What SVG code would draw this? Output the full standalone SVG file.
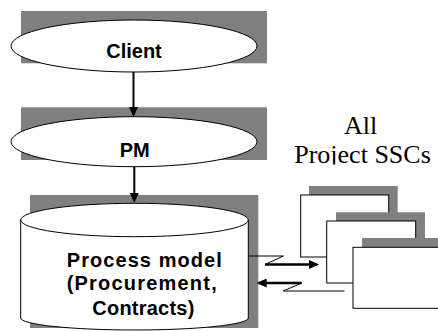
<svg xmlns="http://www.w3.org/2000/svg" width="438" height="331" viewBox="0 0 438 331">
<style>
.sh{fill:#808080;stroke:none}
.nd{fill:#fff;stroke:#000;stroke-width:1}
.lb{font-family:"Liberation Sans",Arial,sans-serif;font-weight:bold;font-size:20px;fill:#000;text-anchor:middle}
.cap{font-family:"Liberation Serif","Times New Roman",serif;font-size:26px;fill:#000;text-anchor:middle}
.thin{fill:none;stroke:#000;stroke-width:1}
.thick{fill:none;stroke:#000;stroke-width:2}
.thick3{fill:none;stroke:#000;stroke-width:2.5}
</style>
<defs>
<marker id="ah" viewBox="0 0 10 9" markerUnits="userSpaceOnUse" markerWidth="10" markerHeight="9" refX="8" refY="4.5" orient="auto">
<path d="M0,0 L10,4.5 L0,9 Z" fill="#000"/>
</marker>
<clipPath id="capclip"><rect x="280" y="100" width="158" height="64.5"/></clipPath>
</defs>

<g id="client">
<rect class="sh" x="21" y="11" width="246" height="52.3"/>
<ellipse class="nd" cx="134" cy="46" rx="123" ry="26"/>
<text class="lb" x="134" y="58.3">Client</text>
</g>

<g id="pm">
<rect class="sh" x="21" y="107.3" width="246" height="52.7"/>
<ellipse class="nd" cx="134" cy="141.7" rx="123" ry="25"/>
<text class="lb" x="134.7" y="156.6">PM</text>
</g>

<g id="process-model">
<rect class="sh" x="30" y="195" width="228.3" height="133"/>
<path class="nd" d="M20.7,220 A113.8,16.7 0 0 1 248.3,220 V318 A113.8,12 0 0 1 20.7,318 Z"/>
<path class="thin" d="M20.7,220 A113.8,16.7 0 0 0 248.3,220"/>
<text class="lb" x="144.3" y="266.7" textLength="155">Process model</text>
<text class="lb" x="141.7" y="290" textLength="150">(Procurement,</text>
<text class="lb" x="143.3" y="315" textLength="102">Contracts)</text>
</g>

<g id="ssc-label" clip-path="url(#capclip)">
<text class="cap" x="360.5" y="134.3">All</text>
<text class="cap" x="362.5" y="163.3">Project SSCs</text>
</g>

<g id="ssc-stack">
<rect class="sh" x="309" y="186" width="88.7" height="62"/>
<rect class="nd" x="300.7" y="195" width="88" height="62"/>
<rect class="sh" x="336" y="212.3" width="89" height="62"/>
<rect class="nd" x="326.7" y="221" width="89" height="62"/>
<rect class="sh" x="362" y="238" width="89" height="62"/>
<rect class="nd" x="353" y="247.3" width="89" height="61"/>
</g>

<g id="connectors">
<line class="thick" x1="133.5" y1="72" x2="133.5" y2="115" marker-end="url(#ah)"/>
<line class="thick" x1="134.3" y1="166.7" x2="134.3" y2="201" marker-end="url(#ah)"/>
<path class="thin" d="M248.3,256 H283.4 L265,264.5"/>
<line class="thick3" x1="265" y1="264.5" x2="317" y2="264.5" marker-end="url(#ah)"/>
<line class="thick3" x1="301.7" y1="283" x2="258.7" y2="283" marker-end="url(#ah)"/>
<path class="thin" d="M301.7,283 L283.3,291 H344.5"/>
</g>
</svg>
